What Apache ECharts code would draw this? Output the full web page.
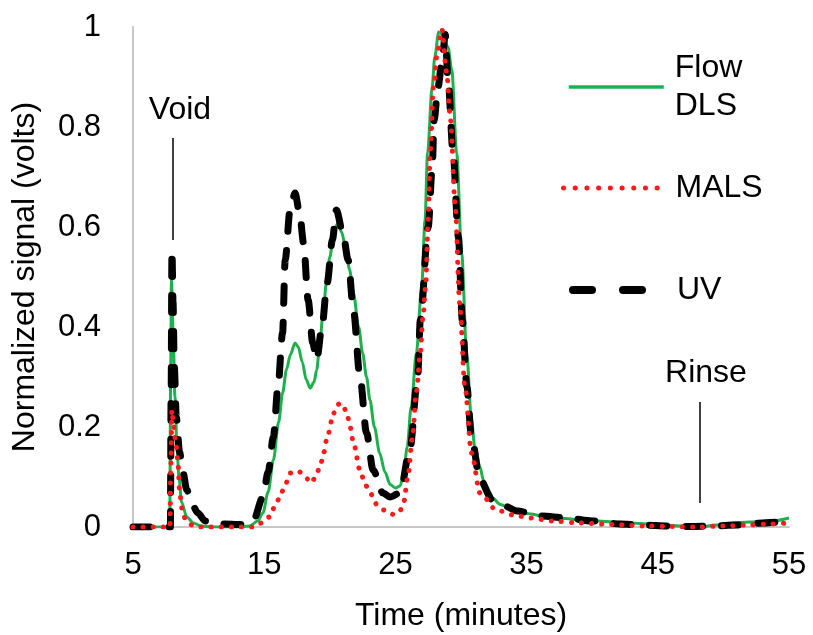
<!DOCTYPE html>
<html>
<head>
<meta charset="utf-8">
<script src="https://cdn.jsdelivr.net/npm/echarts@6/dist/echarts.min.js"></script>
<style>
html,body{margin:0;padding:0;background:#fff;}
#chart{width:813px;height:635px;}
</style>
</head>
<body>
<div id="chart"></div>
<script>
// ---- data ----
var xTicks = [5, 15, 25, 35, 45, 55];
var yTicks = [0, 0.2, 0.4, 0.6, 0.8, 1];

var flowTime = [5, 7.6, 7.8, 7.87, 7.93, 8.05, 8.2, 8.35, 8.5, 8.7, 9.1, 9.6, 10.2, 11, 13, 13.9, 14.5, 14.9, 15.3, 15.7, 16.1, 16.4, 16.7, 17.0, 17.35, 17.6, 17.9, 18.2, 18.5, 18.8, 19.0, 19.25, 19.5, 19.75, 20.0, 20.3, 20.6, 20.9, 21.2, 21.5, 21.8, 22.2, 22.5, 22.8, 23.06, 23.4, 23.8, 24.2, 24.6, 25.0, 25.35, 25.6, 25.9, 26.2, 26.6, 27.0, 27.26, 27.45, 27.8, 28.0, 28.3, 28.6, 29.0, 29.3, 29.67, 30.05, 30.43, 30.8, 31.05, 31.45, 31.7, 32.2, 32.4, 33.0, 34, 35, 36.5, 38, 39.1, 40.5, 41.6, 43, 44.2, 45.5, 46.7, 48.2, 49.5, 50.5, 52, 53, 54, 55];
var flowSignal = [0, 0, 0, 0.3, 0.494, 0.4, 0.26, 0.16, 0.1, 0.05, 0.02, 0.008, 0.002, 0, 0, 0.002, 0.012, 0.028, 0.07, 0.134, 0.21, 0.268, 0.315, 0.345, 0.368, 0.36, 0.33, 0.295, 0.278, 0.29, 0.314, 0.37, 0.434, 0.49, 0.54, 0.585, 0.608, 0.59, 0.56, 0.515, 0.468, 0.4, 0.348, 0.3, 0.254, 0.2, 0.148, 0.11, 0.085, 0.078, 0.082, 0.1, 0.16, 0.24, 0.348, 0.48, 0.614, 0.748, 0.88, 0.94, 0.99, 0.985, 0.96, 0.914, 0.748, 0.548, 0.348, 0.214, 0.16, 0.12, 0.094, 0.068, 0.058, 0.045, 0.034, 0.027, 0.021, 0.017, 0.014, 0.012, 0.01, 0.008, 0.006, 0.004, 0.002, 0, 0.004, 0.008, 0.01, 0.011, 0.013, 0.018];

var malsTime = [5, 7.7, 7.82, 7.88, 7.97, 8.1, 8.3, 8.45, 8.55, 8.75, 9.0, 9.5, 10.2, 13, 14.1, 14.8, 15.4, 15.8, 16.2, 16.6, 17.0, 17.35, 17.7, 18.1, 18.6, 18.9, 19.25, 19.55, 19.8, 20.3, 20.6, 20.85, 21.05, 21.3, 21.55, 21.8, 22.3, 22.7, 23.06, 23.6, 24.1, 24.5, 24.9, 25.3, 25.6, 25.95, 26.3, 26.6, 26.9, 27.1, 27.3, 27.5, 27.65, 27.9, 28.2, 28.55, 28.9, 29.2, 29.55, 29.9, 30.3, 30.8, 31.45, 32.7, 34, 35.3, 37, 39.1, 41.5, 44.2, 46, 48, 50, 51.8, 53.5, 55];
var malsSignal = [0, 0, 0, 0.12, 0.234, 0.2, 0.16, 0.12, 0.07, 0.035, 0.015, 0.004, 0, 0, 0, 0.008, 0.02, 0.04, 0.06, 0.085, 0.108, 0.112, 0.11, 0.1, 0.088, 0.1, 0.12, 0.15, 0.18, 0.228, 0.245, 0.248, 0.24, 0.228, 0.2, 0.168, 0.114, 0.085, 0.068, 0.045, 0.034, 0.027, 0.025, 0.03, 0.045, 0.1, 0.18, 0.27, 0.348, 0.42, 0.48, 0.614, 0.748, 0.88, 0.95, 0.995, 0.91, 0.814, 0.648, 0.448, 0.28, 0.148, 0.068, 0.034, 0.024, 0.018, 0.012, 0.008, 0.005, 0.002, 0.001, 0, 0.002, 0.004, 0.006, 0.008];

var uvTime = [5, 6, 7, 7.85, 7.9, 7.97, 8.05, 8.15, 8.3, 8.55, 8.8, 9.1, 9.5, 9.95, 10.5, 11, 12, 13, 13.7, 14.2, 14.9, 15.3, 15.7, 16.05, 16.4, 16.6, 16.97, 17.35, 17.7, 18.0, 18.35, 18.7, 19.0, 19.4, 19.8, 20.2, 20.5, 21.0, 21.4, 21.8, 22.3, 22.8, 23.3, 24.05, 24.6, 25.35, 26.1, 26.7, 26.9, 27.5, 27.8, 27.95, 28.25, 28.55, 28.8, 29.0, 29.4, 29.8, 30.1, 30.45, 30.8, 31.45, 32.4, 33.3, 34.3, 36, 38.1, 40, 42.1, 44, 45.7, 47.5, 49.2, 51, 53, 54.3, 55];
var uvSignal = [0, 0, 0.001, 0, 0.25, 0.554, 0.45, 0.32, 0.22, 0.15, 0.11, 0.074, 0.045, 0.028, 0.012, 0.006, 0.006, 0.005, 0.005, 0.015, 0.06, 0.11, 0.18, 0.28, 0.388, 0.534, 0.634, 0.668, 0.628, 0.568, 0.454, 0.368, 0.334, 0.4, 0.488, 0.574, 0.634, 0.588, 0.534, 0.434, 0.3, 0.188, 0.114, 0.068, 0.06, 0.068, 0.154, 0.3, 0.414, 0.6, 0.714, 0.814, 0.88, 0.93, 0.985, 0.9, 0.748, 0.58, 0.414, 0.28, 0.18, 0.094, 0.054, 0.042, 0.032, 0.022, 0.018, 0.012, 0.006, 0.004, 0.002, 0.001, 0.002, 0.004, 0.008, 0.01, 0.012];

// annotation markers: [label, time, signal]
var annotationLabels = [['Void', 8.58, 0.834], ['Rinse', 48.67, 0.308]];
// annotation leader lines: [time, signalFrom, signalTo]
var annotationLines = [[8, 0.574, 0.778], [48.2, 0.048, 0.25]];

function zip(xs, ys) { return xs.map(function (x, i) { return [x, ys[i]]; }); }

var FONT = 'Liberation Sans, Arial, sans-serif';
var chart = echarts.init(document.getElementById('chart'), null, {renderer: 'canvas'});

var option = {
  backgroundColor: '#ffffff',
  animation: false,
  grid: {left: 133, right: 24, top: 27, bottom: 108, containLabel: false, outerBoundsMode: 'none'},
  xAxis: {
    type: 'value', min: xTicks[0], max: xTicks[xTicks.length - 1], interval: 10,
    name: 'Time (minutes)', nameLocation: 'middle', nameGap: 73,
    nameTextStyle: {fontFamily: FONT, fontSize: 32, color: '#000'},
    axisLine: {show: true, onZero: false, lineStyle: {color: '#c8c8c8', width: 2}},
    axisTick: {show: false},
    splitLine: {show: false},
    axisLabel: {fontFamily: FONT, fontSize: 31, color: '#000', margin: 23}
  },
  yAxis: {
    type: 'value', min: yTicks[0], max: yTicks[yTicks.length - 1], interval: 0.2,
    name: 'Normalized signal (volts)', nameLocation: 'middle', nameGap: 92,
    nameTextStyle: {fontFamily: FONT, fontSize: 32, color: '#000'},
    axisLine: {show: true, lineStyle: {color: '#c8c8c8', width: 2}},
    axisTick: {show: false},
    splitLine: {show: false},
    axisLabel: {fontFamily: FONT, fontSize: 31, color: '#000', margin: 32}
  },
  legend: [
    {
      data: [{name: 'Flow DLS', textStyle: {padding: [38, 0, 0, 6]}}],
      left: 567, top: 30, padding: 0,
      itemWidth: 95, itemHeight: 8,
      formatter: function () { return 'Flow\nDLS'; },
      textStyle: {fontFamily: FONT, fontSize: 32, color: '#000', lineHeight: 38},
      itemStyle: {opacity: 0},
      lineStyle: {width: 3.5, type: 'solid'}
    },
    {
      data: [{name: 'MALS', textStyle: {padding: [0, 0, 0, 12]}}],
      left: 561, top: 169, padding: 0,
      itemWidth: 95, itemHeight: 8,
      textStyle: {fontFamily: FONT, fontSize: 32, color: '#000', lineHeight: 38},
      itemStyle: {opacity: 0},
      lineStyle: {width: 5, type: [0.1, 11.6], cap: 'round'}
    },
    {
      data: [{name: 'UV', textStyle: {padding: [0, 0, 0, 30]}}],
      left: 569, top: 271, padding: 0,
      itemWidth: 69, itemHeight: 8,
      textStyle: {fontFamily: FONT, fontSize: 32, color: '#000', lineHeight: 38},
      itemStyle: {opacity: 0},
      lineStyle: {width: 8, type: [19, 31], cap: 'round'}
    }
  ],
  series: [
    {
      name: 'Flow DLS', type: 'line', data: zip(flowTime, flowSignal),
      symbol: 'none', smooth: 0.3, smoothMonotone: 'x', z: 2,
      lineStyle: {color: '#1eb04e', width: 3, join: 'round'},
      itemStyle: {color: '#1eb04e'}
    },
    {
      name: 'UV', type: 'line', data: zip(uvTime, uvSignal),
      symbol: 'none', smooth: 0.3, smoothMonotone: 'x', z: 3,
      lineStyle: {color: '#000000', width: 7, type: [17, 19], cap: 'round', join: 'round'},
      itemStyle: {color: '#000000'},
      markLine: {
        silent: true, symbol: ['none', 'none'], animation: false,
        lineStyle: {color: '#000', width: 1.5, type: 'solid'},
        label: {show: false},
        data: annotationLines.map(function (a) { return [{coord: [a[0], a[1]]}, {coord: [a[0], a[2]]}]; })
      },
      markPoint: {
        silent: true, symbol: 'circle', symbolSize: 0,
        itemStyle: {color: 'rgba(0,0,0,0)'},
        label: {show: true, position: 'inside', formatter: '{b}', fontFamily: FONT, fontSize: 32, color: '#000'},
        data: annotationLabels.map(function (a) { return {name: a[0], coord: [a[1], a[2]]}; })
      }
    },
    {
      name: 'MALS', type: 'line', data: zip(malsTime, malsSignal),
      symbol: 'none', smooth: 0.3, smoothMonotone: 'x', z: 4,
      lineStyle: {color: '#ff1a1a', width: 5, type: [0.1, 10], cap: 'round', join: 'round'},
      itemStyle: {color: '#ff1a1a'}
    }
  ]
};
chart.setOption(option);
</script>
</body>
</html>
